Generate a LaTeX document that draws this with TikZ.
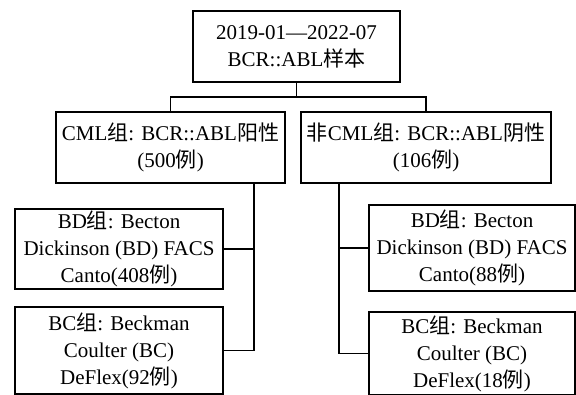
\documentclass[tikz,border=0pt]{standalone}
\usepackage{fontspec}
\setmainfont{Liberation Serif}
\newfontfamily\cjk{Noto Sans CJK SC}
\newcommand{\zh}[1]{{\cjk #1}}
\usetikzlibrary{positioning}

\begin{document}
\begin{tikzpicture}[x=1pt, y=1pt,
  box/.style={draw, line width=1.5pt, align=center, inner sep=0pt, font=\fontsize{21}{27}\selectfont},
  link/.style={line width=1.5pt}]
  \useasboundingbox (0,0) rectangle (576,395);

  % Samples
  \node[box, minimum width=207pt, minimum height=71pt] (all) at (296.5,348.5) {2019-01—2022-07\\BCR::ABL\zh{样本}};

  % Groups
  \node[box, minimum width=229pt, minimum height=71pt] (cml) at (170.5,247.5) {CML\zh{组}: BCR::ABL\zh{阳性}\\(500\zh{例})};
  \node[box, minimum width=250pt, minimum height=71pt] (noncml) at (426,247.5) {\zh{非}CML\zh{组}: BCR::ABL\zh{阴性}\\(106\zh{例})};

  % Instruments, CML
  \node[box, minimum width=208pt, minimum height=80pt] (cmlbd) at (119,146) {BD\zh{组}: Becton\\Dickinson (BD) FACS\\Canto(408\zh{例})};
  \node[box, minimum width=208pt, minimum height=87pt] (cmlbc) at (119,44.5) {BC\zh{组}: Beckman\\Coulter (BC)\\DeFlex(92\zh{例})};

  % Instruments, non-CML
  \node[box, minimum width=206pt, minimum height=86pt] (noncmlbd) at (472,147) {BD\zh{组}: Becton\\Dickinson (BD) FACS\\Canto(88\zh{例})};
  \node[box, minimum width=206pt, minimum height=83pt] (noncmlbc) at (472,41.5) {BC\zh{组}: Beckman\\Coulter (BC)\\DeFlex(18\zh{例})};

  % Links
  \coordinate (fork) at (296.5,298);
  \coordinate (cmltap) at (254,212);
  \coordinate (noncmltap) at (339,212);
  \draw[link] (all.south) -- (fork);
  \draw[link] (fork) -| (cml.north);
  \draw[link] (fork) -| (noncml.north);
  \draw[link] (cmltap) |- (cmlbd.east);
  \draw[link] (cmltap) |- (cmlbc.east);
  \draw[link] (noncmltap) |- (noncmlbd.west);
  \draw[link] (noncmltap) |- (noncmlbc.west);
\end{tikzpicture}
\end{document}
